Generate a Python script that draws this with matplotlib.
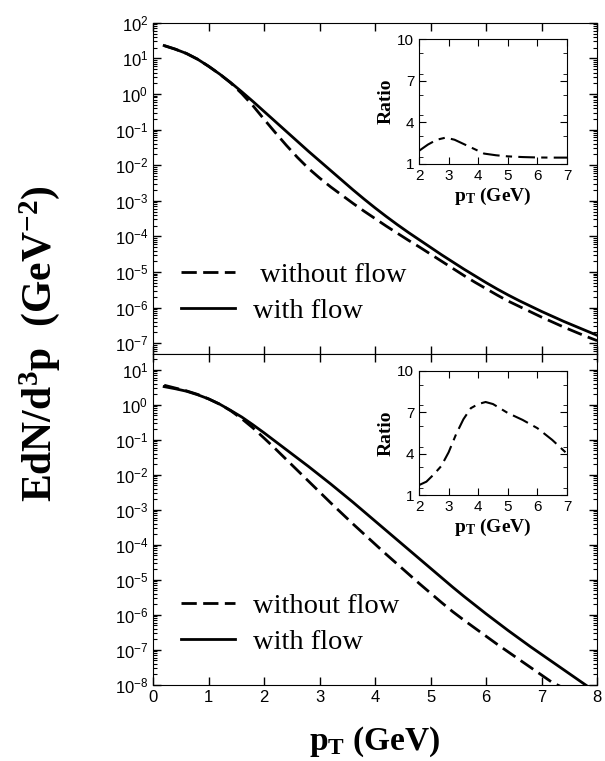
import numpy as np
import matplotlib
matplotlib.use('Agg')
import matplotlib.pyplot as plt
from matplotlib.ticker import LogLocator, NullFormatter, MultipleLocator

plt.rcParams['font.family'] = ['Liberation Sans', 'DejaVu Sans']
plt.rcParams['mathtext.fontset'] = 'custom'
plt.rcParams['mathtext.rm'] = 'Liberation Serif:bold'
plt.rcParams['mathtext.it'] = 'Liberation Serif:bold'
plt.rcParams['mathtext.bf'] = 'Liberation Serif:bold'

# pT grid used for the spectra (GeV)
pt = [0.2, 0.4, 0.6, 0.8, 1.0, 1.2, 1.4, 1.6, 1.8, 2.0, 2.2, 2.4, 2.6, 2.8, 3.0,
      3.2, 3.4, 3.6, 3.8, 4.0, 4.2, 4.4, 4.6, 4.8, 5.0, 5.2, 5.4, 5.6, 5.8, 6.0,
      6.2, 6.4, 6.6, 6.8, 7.0, 7.2, 7.4, 7.6, 7.8, 8.0]

# upper panel, log10(EdN/d3p)
top_flow = [1.36, 1.26, 1.14, 0.98, 0.78, 0.56, 0.32, 0.06, -0.21, -0.49, -0.77,
            -1.05, -1.33, -1.61, -1.88, -2.15, -2.42, -2.69, -2.95, -3.20, -3.44,
            -3.67, -3.89, -4.10, -4.31, -4.52, -4.72, -4.92, -5.11, -5.30, -5.48,
            -5.65, -5.81, -5.96, -6.11, -6.25, -6.39, -6.52, -6.65, -6.78]
top_noflow = [1.36, 1.26, 1.14, 0.98, 0.78, 0.56, 0.31, 0.01, -0.33, -0.71, -1.08,
              -1.44, -1.78, -2.09, -2.36, -2.61, -2.84, -3.07, -3.29, -3.50, -3.71,
              -3.91, -4.11, -4.30, -4.50, -4.70, -4.90, -5.10, -5.29, -5.47, -5.65,
              -5.82, -5.97, -6.12, -6.27, -6.41, -6.55, -6.68, -6.81, -6.93]

# lower panel, log10(EdN/d3p)
pt_bot = pt[:39]
bot_flow = [0.52, 0.46, 0.39, 0.29, 0.17, 0.02, -0.16, -0.35, -0.57, -0.80, -1.04,
            -1.28, -1.52, -1.76, -2.01, -2.26, -2.52, -2.78, -3.05, -3.32, -3.59,
            -3.86, -4.13, -4.40, -4.67, -4.94, -5.21, -5.47, -5.72, -5.97, -6.21,
            -6.45, -6.68, -6.91, -7.13, -7.35, -7.57, -7.79, -8.01]
pt_bot_nf = pt[:36] + [7.35]
bot_noflow = [0.56, 0.48, 0.40, 0.30, 0.17, 0.02, -0.17, -0.40, -0.66, -0.95, -1.25,
              -1.56, -1.87, -2.18, -2.49, -2.80, -3.10, -3.40, -3.69, -3.98, -4.27,
              -4.55, -4.83, -5.11, -5.38, -5.65, -5.91, -6.15, -6.38, -6.61, -6.84,
              -7.06, -7.28, -7.50, -7.72, -7.94, -8.05]

# ratio insets
pt_ratio_top = [2.0, 2.3, 2.6, 2.9, 3.2, 3.6, 4.0, 4.2, 4.6, 5.0, 5.5, 6.0, 6.5, 7.0]
ratio_top = [1.95, 2.4, 2.75, 2.9, 2.75, 2.35, 1.95, 1.75, 1.63, 1.55, 1.5, 1.47, 1.46, 1.46]
pt_ratio_bot = [2.0, 2.25, 2.5, 2.75, 3.0, 3.25, 3.5, 3.75, 4.0, 4.25, 4.5, 5.0,
                5.5, 6.0, 6.5, 7.0]
ratio_bot = [1.72, 1.97, 2.5, 3.1, 4.1, 5.4, 6.5, 7.3, 7.6, 7.75, 7.6, 6.95, 6.45,
             5.85, 5.0, 4.0]

fig = plt.figure(figsize=(6.05, 7.61), dpi=100)
ax1 = fig.add_axes([0.253, 0.535, 0.734, 0.435])
ax2 = fig.add_axes([0.253, 0.100, 0.734, 0.435])

serif = 'Liberation Serif'
dashes = (0, (5.5, 2.3))

for ax, x1, y1, x2, y2, ylim, lab in [
        (ax1, pt, top_flow, pt, top_noflow, (5e-8, 100), ' without flow'),
        (ax2, pt_bot, bot_flow, pt_bot_nf, bot_noflow, (1e-8, 28.6), 'without flow')]:
    ax.plot(x2, 10 ** np.array(y2), color='black', lw=2, linestyle=dashes, label=lab)
    ax.plot(x1, 10 ** np.array(y1), color='black', lw=2, label='with flow')
    ax.set_yscale('log')
    ax.set_xlim(0, 8)
    ax.set_ylim(*ylim)
    ax.yaxis.set_major_locator(LogLocator(base=10, numticks=20))
    ax.yaxis.set_minor_locator(LogLocator(base=10, subs=np.arange(2, 10), numticks=20))
    ax.yaxis.set_minor_formatter(NullFormatter())
    ax.xaxis.set_major_locator(MultipleLocator(1))
    ax.tick_params(which='both', direction='in', top=True, right=True, labelsize=12)
    ax.tick_params(which='major', length=6, width=1)
    ax.tick_params(which='minor', length=3, width=0.8)
    ax.legend(loc='lower left', bbox_to_anchor=(0.006, 0.012), frameon=False,
              handlelength=1.9, labelspacing=0.36, handletextpad=0.6,
              prop={'family': serif, 'size': 20.5})

ax1.set_xticklabels([])
ax1.set_yticks([1e-7, 1e-6, 1e-5, 1e-4, 1e-3, 1e-2, 1e-1, 1, 10, 100])
ax2.set_yticks([1e-8, 1e-7, 1e-6, 1e-5, 1e-4, 1e-3, 1e-2, 1e-1, 1, 10])
ax2.set_xlabel(r'$\mathbf{p_T}$ (GeV)', family=serif, weight='bold', fontsize=24, labelpad=14)
fig.text(0.066, 0.549, r'EdN/d$^{3}$p  (GeV$^{-2}$)', rotation=90, ha='center',
         va='center', family=serif, weight='bold', fontsize=30)

# insets
for box, xr, yr in [([0.6926, 0.7845, 0.2446, 0.164], pt_ratio_top, ratio_top),
                    ([0.6926, 0.3495, 0.2446, 0.163], pt_ratio_bot, ratio_bot)]:
    ins = fig.add_axes(box)
    ins.plot(xr, yr, color='black', lw=1.5, linestyle=(0, (8, 3, 3, 3)))
    ins.set_xlim(2, 7)
    ins.set_ylim(1, 10)
    ins.set_yticks([1, 4, 7, 10])
    ins.yaxis.set_minor_locator(MultipleLocator(1.5))
    ins.xaxis.set_major_locator(MultipleLocator(1))
    ins.tick_params(which='both', direction='in', top=True, right=True, labelsize=11)
    ins.tick_params(which='major', length=5)
    ins.tick_params(which='minor', length=3)
    ins.set_ylabel('Ratio', family=serif, weight='bold', fontsize=14, labelpad=2)
    ins.set_xlabel(r'$\mathbf{p_T}$ (GeV)', family=serif, weight='bold', fontsize=14,
                   labelpad=2)

fig.savefig('out.png', dpi=100)
